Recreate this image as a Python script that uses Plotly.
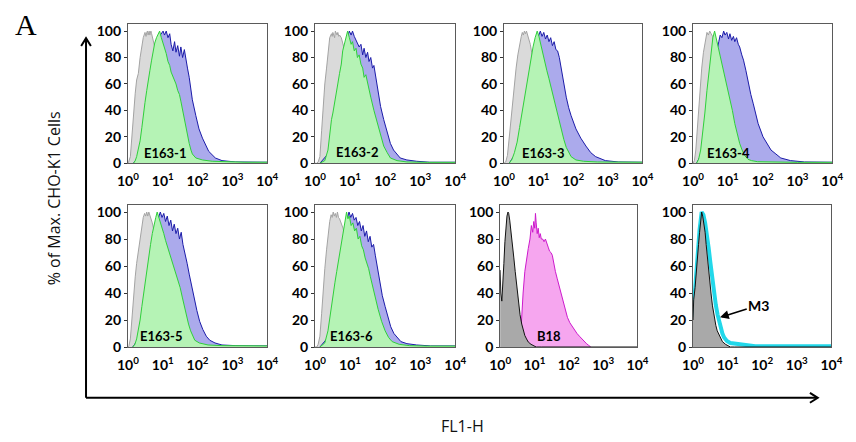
import plotly.graph_objects as go

# ---------------------------------------------------------------------------
# Histogram data: FL1-H position in decades (log10) and % of max cells
# ---------------------------------------------------------------------------
E1_GRAY_X = [0.0, 0.02, 0.07, 0.11, 0.16, 0.21, 0.25, 0.30, 0.35, 0.40, 0.44, 0.49, 0.52, 0.54, 0.56, 0.58,
             0.61, 0.63, 0.66, 0.68, 0.72, 0.77, 0.82, 0.9, 1.0, 1.2, 1.4, 1.6, 1.8, 2.0, 2.5, 4.0]
E1_GRAY_Y = [0, 1, 5, 21, 41, 53, 63, 68, 80, 88, 95, 99, 96, 99, 100, 97,
             100, 97, 100, 98, 94, 88, 78, 65, 50, 28, 12, 5, 2, 1, 0.3, 0]
E1_GREEN_X = [0.16, 0.21, 0.25, 0.30, 0.35, 0.40, 0.44, 0.49, 0.54, 0.58, 0.63, 0.68, 0.72, 0.77, 0.82, 0.87,
              0.91, 0.96, 1.01, 1.05, 1.10, 1.15, 1.20, 1.24, 1.29, 1.34, 1.38, 1.43, 1.48, 1.52, 1.57, 1.62,
              1.67, 1.72, 1.76, 1.81, 1.85, 1.95, 2.14, 2.42, 2.89, 3.36, 4.0]
E1_GREEN_Y = [0, 2, 5, 10, 17, 27, 37, 46, 55, 63, 70, 78, 84, 91, 95, 98,
              100, 95, 91, 86, 83, 77, 74, 69, 66, 62, 60, 55, 52, 47, 40, 33,
              27, 20, 15, 10, 7, 4, 2.5, 1.5, 1, 0.8, 0.8]
E1_BLUE_X = [0.16, 0.30, 0.50, 0.70, 0.85, 0.93, 0.97, 1.01, 1.05, 1.10, 1.15, 1.20, 1.24, 1.29, 1.34, 1.38,
             1.43, 1.48, 1.52, 1.57, 1.62, 1.67, 1.71, 1.76, 1.85, 1.95, 2.04, 2.14, 2.23, 2.32, 2.51, 2.70,
             3.08, 3.45, 4.0]
E1_BLUE_Y = [0, 5, 30, 65, 88, 97, 99, 100, 97, 100, 95, 98, 90, 85, 92, 84,
             89, 81, 88, 80, 86, 76, 72, 65, 48, 36, 26, 19, 14, 9, 4, 2,
             1, 0.8, 0.8]

E2_GRAY_X = [0.0, 0.05, 0.09, 0.14, 0.19, 0.23, 0.28, 0.33, 0.37, 0.42, 0.47, 0.49, 0.51, 0.54, 0.56, 0.58,
             0.61, 0.63, 0.65, 0.68, 0.70, 0.75, 0.79, 0.84, 0.95, 1.1, 1.3, 1.5, 1.7, 2.0, 2.5, 4.0]
E2_GRAY_Y = [0, 0, 1, 5, 25, 45, 60, 72, 85, 95, 98, 96, 99, 97, 95, 100,
             98, 97, 99, 96, 97, 95, 91, 86, 72, 52, 30, 14, 5, 1.5, 0.3, 0]
E2_GREEN_X = [0.14, 0.28, 0.37, 0.42, 0.47, 0.51, 0.56, 0.61, 0.65, 0.70, 0.75, 0.79, 0.84, 0.89, 0.93, 0.98,
              1.03, 1.07, 1.12, 1.17, 1.21, 1.26, 1.31, 1.36, 1.40, 1.45, 1.50, 1.54, 1.59, 1.68, 1.78, 1.87,
              1.96, 2.06, 2.15, 2.34, 2.62, 3.2, 4.0]
E2_GREEN_Y = [0, 2, 10, 22, 33, 38, 45, 52, 60, 68, 75, 85, 90, 96, 100, 95,
              90, 92, 85, 87, 80, 82, 75, 72, 65, 67, 60, 55, 50, 40, 30, 20,
              13, 8, 4, 2, 1, 0.7, 0.7]
E2_BLUE_X = [0.14, 0.40, 0.60, 0.80, 0.93, 0.98, 1.03, 1.07, 1.12, 1.17, 1.21, 1.26, 1.31, 1.36, 1.40, 1.45,
             1.50, 1.54, 1.59, 1.64, 1.68, 1.73, 1.78, 1.82, 1.87, 1.96, 2.06, 2.15, 2.24, 2.34, 2.43, 2.62,
             2.90, 3.27, 4.0]
E2_BLUE_Y = [0, 8, 40, 80, 96, 100, 97, 100, 96, 93, 90, 88, 90, 82, 87, 80,
             84, 77, 80, 72, 74, 65, 57, 50, 43, 33, 23, 15, 10, 7, 4, 2.5,
             1.5, 0.8, 0.8]

E3_GRAY_X = [0.0, 0.05, 0.10, 0.15, 0.20, 0.25, 0.30, 0.35, 0.40, 0.45, 0.50, 0.53, 0.56, 0.59, 0.62, 0.65,
             0.68, 0.72, 0.76, 0.80, 0.85, 0.95, 1.1, 1.3, 1.5, 1.7, 2.0, 2.5, 4.0]
E3_GRAY_Y = [0, 1, 6, 20, 35, 50, 62, 72, 82, 90, 96, 99, 97, 100, 98, 100,
             97, 95, 90, 84, 76, 60, 40, 20, 9, 3, 1, 0.3, 0]
E3_GREEN_X = [0.15, 0.23, 0.30, 0.38, 0.45, 0.52, 0.60, 0.66, 0.72, 0.78, 0.84, 0.90, 0.96, 1.01, 1.06, 1.10,
              1.15, 1.20, 1.24, 1.30, 1.38, 1.45, 1.52, 1.59, 1.66, 1.73, 1.80, 1.87, 1.94, 2.08, 2.3, 2.7,
              3.2, 4.0]
E3_GREEN_Y = [0, 3, 8, 16, 27, 38, 50, 60, 70, 80, 88, 95, 100, 96, 90, 86,
              80, 75, 70, 64, 55, 48, 40, 32, 25, 18, 12, 8, 5, 2.5, 1.5, 1,
              0.8, 0.8]
E3_BLUE_X = [0.15, 0.40, 0.60, 0.80, 0.95, 1.00, 1.05, 1.10, 1.15, 1.20, 1.25, 1.30, 1.35, 1.40, 1.45, 1.50,
             1.55, 1.60, 1.66, 1.73, 1.80, 1.87, 1.94, 2.08, 2.22, 2.37, 2.51, 2.65, 2.93, 3.3, 4.0]
E3_BLUE_Y = [0, 10, 40, 75, 93, 97, 100, 96, 99, 94, 97, 92, 95, 89, 92, 86,
             85, 80, 70, 60, 50, 42, 36, 26, 19, 13, 8, 5, 2, 1, 0.8]

E4_GRAY_X = [0.0, 0.04, 0.08, 0.12, 0.16, 0.20, 0.25, 0.30, 0.35, 0.40, 0.44, 0.48, 0.52, 0.56, 0.60, 0.65,
             0.70, 0.80, 0.90, 1.0, 1.2, 1.4, 1.6, 2.0, 2.5, 4.0]
E4_GRAY_Y = [0, 2, 10, 25, 42, 58, 72, 84, 93, 99, 97, 100, 98, 96, 90, 82,
             72, 55, 40, 28, 12, 5, 2, 0.5, 0.2, 0]
E4_GREEN_X = [0.10, 0.16, 0.22, 0.28, 0.34, 0.40, 0.46, 0.52, 0.57, 0.62, 0.67, 0.72, 0.78, 0.85, 0.92, 0.99,
              1.06, 1.13, 1.20, 1.27, 1.34, 1.41, 1.48, 1.58, 1.68, 1.85, 2.1, 2.5, 3.0, 4.0]
E4_GREEN_Y = [0, 3, 10, 22, 38, 55, 70, 85, 95, 100, 94, 88, 82, 74, 65, 58,
              48, 40, 30, 22, 15, 10, 6, 3, 2, 1.2, 1, 0.8, 0.7, 0.7]
E4_BLUE_X = [0.10, 0.30, 0.50, 0.65, 0.74, 0.78, 0.83, 0.88, 0.92, 0.97, 1.02, 1.06, 1.11, 1.16, 1.20, 1.25,
             1.30, 1.34, 1.40, 1.45, 1.52, 1.59, 1.66, 1.73, 1.80, 1.87, 2.01, 2.12, 2.24, 2.38, 2.52, 2.80,
             3.2, 4.0]
E4_BLUE_Y = [0, 10, 45, 80, 92, 97, 95, 100, 97, 99, 94, 98, 93, 96, 92, 95,
             90, 88, 82, 78, 70, 60, 52, 45, 37, 30, 20, 15, 10, 7, 4, 2,
             1, 0.8]

E5_GRAY_X = [0.0, 0.03, 0.07, 0.11, 0.16, 0.21, 0.25, 0.30, 0.35, 0.40, 0.44, 0.48, 0.51, 0.54, 0.57, 0.60,
             0.63, 0.66, 0.70, 0.75, 0.80, 0.9, 1.0, 1.2, 1.4, 1.6, 1.8, 2.0, 2.5, 4.0]
E5_GRAY_Y = [0, 1, 6, 20, 38, 52, 62, 72, 82, 90, 96, 99, 97, 100, 97, 100,
             98, 96, 92, 86, 78, 64, 50, 28, 12, 5, 2, 1, 0.3, 0]
E5_GREEN_X = [0.14, 0.20, 0.25, 0.30, 0.35, 0.40, 0.45, 0.50, 0.55, 0.60, 0.65, 0.70, 0.75, 0.80, 0.84, 0.88,
              0.93, 0.98, 1.03, 1.08, 1.13, 1.18, 1.23, 1.28, 1.33, 1.38, 1.44, 1.50, 1.56, 1.62, 1.68, 1.74,
              1.80, 1.86, 1.92, 2.05, 2.3, 2.7, 3.2, 4.0]
E5_GREEN_Y = [0, 2, 6, 12, 20, 30, 40, 50, 60, 68, 76, 84, 91, 96, 100, 97,
              92, 88, 84, 79, 75, 71, 67, 63, 59, 55, 50, 44, 37, 30, 23, 17,
              12, 8, 5, 3, 1.5, 1, 0.8, 0.8]
E5_BLUE_X = [0.14, 0.30, 0.50, 0.70, 0.82, 0.88, 0.93, 0.98, 1.03, 1.08, 1.13, 1.18, 1.23, 1.28, 1.33, 1.38,
             1.43, 1.48, 1.53, 1.58, 1.64, 1.70, 1.76, 1.82, 1.90, 1.98, 2.06, 2.15, 2.25, 2.35, 2.50, 2.70,
             3.1, 3.5, 4.0]
E5_BLUE_Y = [0, 6, 32, 68, 88, 96, 100, 96, 99, 93, 97, 90, 94, 86, 91, 84,
             88, 80, 85, 76, 70, 62, 54, 46, 36, 27, 19, 13, 8, 5, 3, 1.5,
             1, 0.8, 0.8]

E6_GRAY_X = [0.0, 0.05, 0.09, 0.14, 0.19, 0.23, 0.28, 0.33, 0.37, 0.42, 0.46, 0.49, 0.52, 0.55, 0.58, 0.61,
             0.64, 0.67, 0.70, 0.75, 0.80, 0.85, 0.95, 1.1, 1.3, 1.5, 1.7, 2.0, 2.5, 4.0]
E6_GRAY_Y = [0, 0, 2, 8, 25, 42, 58, 72, 84, 93, 98, 96, 100, 97, 99, 96,
             100, 96, 95, 92, 88, 82, 70, 50, 30, 14, 5, 1.5, 0.3, 0]
E6_GREEN_X = [0.14, 0.28, 0.37, 0.42, 0.47, 0.52, 0.57, 0.62, 0.67, 0.72, 0.77, 0.82, 0.86, 0.90, 0.94, 0.98,
              1.03, 1.08, 1.13, 1.18, 1.23, 1.28, 1.33, 1.38, 1.43, 1.48, 1.53, 1.58, 1.63, 1.70, 1.80, 1.90,
              2.00, 2.10, 2.20, 2.40, 2.70, 3.2, 4.0]
E6_GREEN_Y = [0, 3, 12, 22, 32, 40, 48, 56, 64, 72, 80, 88, 94, 100, 95, 97,
              90, 92, 86, 88, 80, 82, 75, 72, 66, 62, 58, 52, 46, 38, 28, 19,
              12, 7, 4, 2, 1, 0.7, 0.7]
E6_BLUE_X = [0.14, 0.40, 0.60, 0.80, 0.92, 0.97, 1.02, 1.07, 1.12, 1.17, 1.22, 1.27, 1.32, 1.37, 1.42, 1.47,
             1.52, 1.57, 1.62, 1.67, 1.72, 1.77, 1.82, 1.87, 1.92, 2.00, 2.08, 2.16, 2.25, 2.35, 2.45, 2.62,
             2.90, 3.3, 4.0]
E6_BLUE_Y = [0, 8, 40, 80, 95, 100, 96, 99, 94, 96, 90, 93, 86, 90, 82, 86,
             78, 82, 74, 76, 68, 60, 52, 45, 38, 30, 22, 15, 10, 7, 4, 2.5,
             1.5, 0.8, 0.8]

B18_GRAY_X = [0.0, 0.02, 0.05, 0.08, 0.11, 0.14, 0.17, 0.20, 0.23, 0.25, 0.28, 0.31, 0.35, 0.40, 0.44, 0.49,
              0.53, 0.58, 0.63, 0.68, 0.72, 0.77, 0.82, 0.90, 0.96, 1.05, 1.2, 4.0]
B18_GRAY_Y = [57, 40, 34, 45, 62, 78, 90, 97, 100, 99, 94, 88, 80, 66, 56, 44,
              32, 24, 17, 12, 8.5, 6, 3.7, 2, 1.2, 0, 0, 0]
B18_X = [0.58, 0.62, 0.67, 0.72, 0.77, 0.82, 0.87, 0.91, 0.95, 0.98, 1.01, 1.03, 1.05, 1.08, 1.11, 1.14,
         1.17, 1.20, 1.24, 1.28, 1.32, 1.36, 1.40, 1.44, 1.48, 1.52, 1.56, 1.61, 1.66, 1.71, 1.76, 1.81,
         1.86, 1.91, 1.96, 2.03, 2.10, 2.17, 2.24, 2.31, 2.38, 2.45, 2.52, 2.58, 2.64]
B18_Y = [0, 22, 40, 56, 66, 73, 80, 90, 85, 93, 88, 99, 92, 84, 88, 81,
         84, 80, 80, 78, 80, 76, 74, 71, 70, 68, 62, 56, 51, 46, 42, 37,
         31, 26, 22, 18, 15, 12.5, 10, 8, 6, 4, 2.4, 1.2, 0]

M3_GRAY_X = [0.0, 0.02, 0.06, 0.09, 0.13, 0.16, 0.19, 0.22, 0.25, 0.28, 0.31, 0.35, 0.38, 0.42, 0.47, 0.52,
             0.56, 0.61, 0.66, 0.70, 0.75, 0.80, 0.85, 0.94, 1.0, 1.08, 1.2, 4.0]
M3_GRAY_Y = [20, 35, 44, 52, 65, 76, 85, 95, 100, 97, 93, 85, 76, 64, 52, 40,
             31, 22, 16, 12, 9, 6, 4, 2, 1, 0, 0, 0]
M3_X = [0.0, 0.06, 0.13, 0.19, 0.25, 0.30, 0.35, 0.40, 0.45, 0.50, 0.56, 0.61, 0.66, 0.71, 0.75, 0.80,
        0.85, 0.90, 0.98, 1.08, 1.20, 1.31, 1.45, 1.59, 1.80, 2.06, 2.5, 3.0, 3.5, 4.0]
M3_Y = [22, 45, 66, 87, 100, 98, 92, 85, 74, 63, 50, 40, 31, 24, 19, 14,
        10, 7, 4.5, 3, 2.5, 2, 1.5, 1, 0.6, 0.5, 0.5, 0.5, 0.5, 0.5]

PANEL_LABELS = ["E163-1", "E163-2", "E163-3", "E163-4", "E163-5", "E163-6", "B18", ""]
X_TICK_VALS = [0, 1, 2, 3, 4]
X_TICK_TEXT = ["<b>10<sup>0</sup></b>", "<b>10<sup>1</sup></b>", "<b>10<sup>2</sup></b>",
               "<b>10<sup>3</sup></b>", "<b>10<sup>4</sup></b>"]
Y_TICK_VALS = [0, 20, 40, 60, 80, 100]
Y_TICK_TEXT = ["<b>0</b>", "<b>20</b>", "<b>40</b>", "<b>60</b>", "<b>80</b>", "<b>100</b>"]

# ---------------------------------------------------------------------------
# Styles and layout
# ---------------------------------------------------------------------------
W, H = 856, 442
FONT = "Lato"

GRAY = dict(fill="#dadada", line="#a3a3a3")
GREEN = dict(fill="#b5f3b5", line="#2fcf3a")
BLUE = dict(fill="#abaaec", line="#1b1ba8")
DARK = dict(fill="#a9a9a9", line="#111111")
MAGENTA = dict(fill="#f6a6ef", line="#cc1acc")
CYAN = "#22d8ea"

# panel boxes in pixels: left, right, top, bottom
BOXES = [
    (120, 263, 23, 165), (312, 456, 23, 165), (506, 648, 23, 165), (700, 843, 23, 165),
    (120, 263, 208, 353), (312, 456, 208, 353), (502, 643, 208, 353), (700, 842, 208, 353),
]
LABEL_POS = [(0.40, 7.5), (0.54, 8.5), (0.45, 8), (0.34, 8), (0.30, 8), (0.38, 8), (1.02, 8), None]

E_PANELS = [
    (E1_GRAY_X, E1_GRAY_Y, E1_BLUE_X, E1_BLUE_Y, E1_GREEN_X, E1_GREEN_Y),
    (E2_GRAY_X, E2_GRAY_Y, E2_BLUE_X, E2_BLUE_Y, E2_GREEN_X, E2_GREEN_Y),
    (E3_GRAY_X, E3_GRAY_Y, E3_BLUE_X, E3_BLUE_Y, E3_GREEN_X, E3_GREEN_Y),
    (E4_GRAY_X, E4_GRAY_Y, E4_BLUE_X, E4_BLUE_Y, E4_GREEN_X, E4_GREEN_Y),
    (E5_GRAY_X, E5_GRAY_Y, E5_BLUE_X, E5_BLUE_Y, E5_GREEN_X, E5_GREEN_Y),
    (E6_GRAY_X, E6_GRAY_Y, E6_BLUE_X, E6_BLUE_Y, E6_GREEN_X, E6_GREEN_Y),
]

fig = go.Figure()


def area(xs, ys, style, idx, width=1.0):
    fig.add_trace(go.Scatter(
        x=xs, y=ys, mode="lines", fill="tozeroy", fillcolor=style["fill"],
        line=dict(color=style["line"], width=width),
        xaxis=f"x{idx}", yaxis=f"y{idx}", hoverinfo="skip", showlegend=False))


# E163 panels: isotype (gray) underneath, then blue and green overlays
for i, (gx, gy, bx, by, grx, gry) in enumerate(E_PANELS, start=1):
    area(gx, gy, GRAY, i)
    area(bx, by, BLUE, i)
    area(grx, gry, GREEN, i)

# B18 panel
area(B18_X, B18_Y, MAGENTA, 7)
area(B18_GRAY_X, B18_GRAY_Y, DARK, 7)

# M3 panel: cyan outline under the gray histogram
fig.add_trace(go.Scatter(
    x=M3_X, y=M3_Y, mode="lines", line=dict(color=CYAN, width=4),
    xaxis="x8", yaxis="y8", hoverinfo="skip", showlegend=False))
area(M3_GRAY_X, M3_GRAY_Y, DARK, 8)

layout = dict(
    width=W, height=H, margin=dict(l=0, r=0, t=0, b=0),
    paper_bgcolor="white", plot_bgcolor="white", showlegend=False,
    font=dict(family=FONT, color="black"),
)

annotations = []
for i, (l, r, t, b) in enumerate(BOXES, start=1):
    layout[f"xaxis{i}"] = dict(
        domain=[l / W, r / W], range=[0, 4], anchor=f"y{i}",
        tickvals=X_TICK_VALS, ticktext=X_TICK_TEXT, ticks="", showgrid=False, zeroline=False,
        showline=True, mirror=True, linecolor="#5a5a5a", linewidth=1, ticklabelstandoff=5,
        tickfont=dict(family=FONT, size=14, color="black"), fixedrange=True)
    layout[f"yaxis{i}"] = dict(
        domain=[1 - b / H, 1 - t / H], range=[0, 105], anchor=f"x{i}",
        tickvals=Y_TICK_VALS, ticktext=Y_TICK_TEXT, ticks="outside", ticklen=3, tickcolor="#333",
        showgrid=False, zeroline=False,
        showline=True, mirror=True, linecolor="#5a5a5a", linewidth=1,
        tickfont=dict(family=FONT, size=14, color="black"), fixedrange=True)
    if LABEL_POS[i - 1] is not None:
        lx, ly = LABEL_POS[i - 1]
        annotations.append(dict(
            text=f"<b>{PANEL_LABELS[i - 1]}</b>", x=lx, y=ly, xref=f"x{i}", yref=f"y{i}",
            xanchor="left", yanchor="middle", showarrow=False,
            font=dict(family=FONT, size=13, color="black")))

# M3 marker arrow
annotations.append(dict(
    text="<b>M3</b>", x=0.78, y=22, xref="x8", yref="y8",
    ax=1.9, ay=31, axref="x8", ayref="y8", showarrow=True,
    arrowhead=2, arrowsize=1.1, arrowwidth=1.6, arrowcolor="black", standoff=0,
    font=dict(family=FONT, size=14, color="black")))

annotations.append(dict(
    text="% of Max. CHO-K1 Cells", textangle=-90, x=45 / W, y=1 - 201 / H,
    xref="paper", yref="paper", showarrow=False, xanchor="center", yanchor="middle",
    font=dict(family="Open Sans", size=16, color="#111")))
annotations.append(dict(
    text="FL1-H", x=463 / W, y=1 - 434 / H, xref="paper", yref="paper",
    showarrow=False, xanchor="center", yanchor="middle",
    font=dict(family="Open Sans", size=16, color="#111")))
annotations.append(dict(
    text="A", x=2 / W, y=1 - 23 / H, xref="paper", yref="paper",
    showarrow=False, xanchor="left", yanchor="middle",
    font=dict(family="Liberation Serif", size=30, color="black")))
layout["annotations"] = annotations


# overall axis arrows drawn as line shapes with open chevron heads
def px(x, y):
    return x / W, 1 - y / H


AX_X0, AX_Y0 = 77, 405
AX_TOP, AX_RIGHT = 37, 828
shapes = []
x0, y0 = px(AX_X0, AX_Y0)
x1, y1 = px(AX_X0, AX_TOP + 1)
shapes.append(dict(type="line", xref="paper", yref="paper", x0=x0, y0=y0, x1=x1, y1=y1,
                   line=dict(color="black", width=2)))
x2, y2 = px(AX_RIGHT - 1, AX_Y0)
shapes.append(dict(type="line", xref="paper", yref="paper", x0=x0, y0=y0, x1=x2, y1=y2,
                   line=dict(color="black", width=2)))


def chevron(points):
    p = [px(a, b) for a, b in points]
    return "M{},{} L{},{} L{},{}".format(p[0][0], p[0][1], p[1][0], p[1][1], p[2][0], p[2][1])


shapes.append(dict(type="path", xref="paper", yref="paper",
                   path=chevron([(AX_X0 - 5, AX_TOP + 8), (AX_X0, AX_TOP), (AX_X0 + 5, AX_TOP + 8)]),
                   line=dict(color="black", width=2)))
shapes.append(dict(type="path", xref="paper", yref="paper",
                   path=chevron([(AX_RIGHT - 8, AX_Y0 - 5), (AX_RIGHT, AX_Y0), (AX_RIGHT - 8, AX_Y0 + 5)]),
                   line=dict(color="black", width=2)))
layout["shapes"] = shapes

fig.update_layout(**layout)

fig.write_html("out.html")
